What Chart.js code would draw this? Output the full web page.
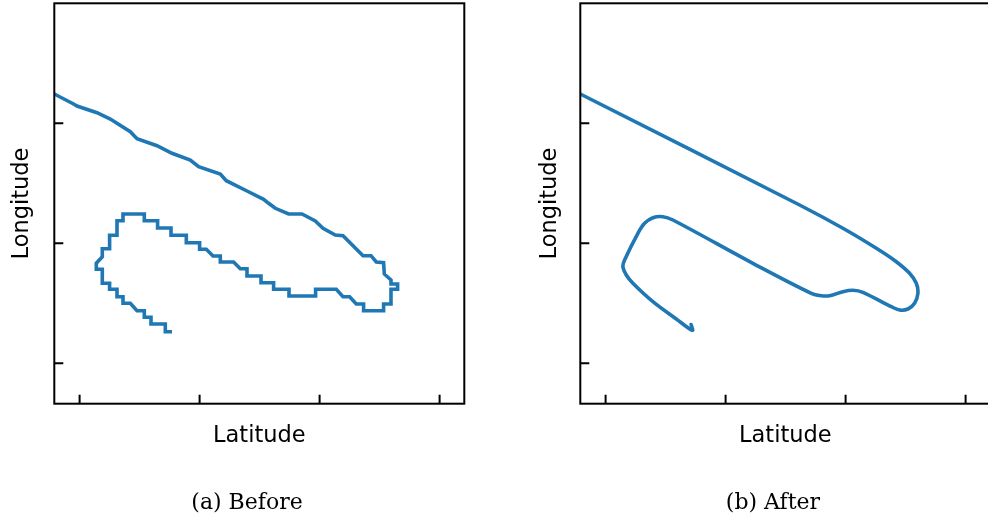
<!DOCTYPE html>
<html><head><meta charset="utf-8">
<script src="https://cdn.jsdelivr.net/npm/chart.js@4.4.1/dist/chart.umd.min.js"></script>
<style>
html,body{margin:0;padding:0;width:988px;height:517px;overflow:hidden;background:#fff;}
canvas{position:absolute;top:0;}
#c1{left:0}
#c2{left:526px}
</style></head><body>
<canvas id="c1" width="494" height="517"></canvas>
<canvas id="c2" width="494" height="517"></canvas>
<script>
// Tick positions (labels hidden in the reference)
const latTicks = [0, 120, 240, 360];
const lonTicks = [0, 120, 240];
const xTitle = 'Latitude';
const yTitle = 'Longitude';
const captions = ['(a) Before', '(b) After'];

// (a) Before: raw trajectory
const beforeLat = [-25.3, -6, -2.6, 17.4, 30.7, 50.7, 57.4, 77.4, 92.4, 110.7, 119, 140.7, 146.7, 167.4, 184, 189, 195.7, 209, 222.4, 235.7, 243.4, 255.7, 263.4, 283.4, 291.4, 296.7, 304, 304.7, 311.4, 311.4, 318, 318, 311.4, 311.4, 304, 304, 284, 284, 276.7, 270, 263.4, 256.7, 236, 236, 209.4, 209.4, 194, 194, 181.4, 181.4, 167.4, 167.4, 160.7, 154, 140.7, 140.7, 133.4, 126.7, 120, 120, 106.7, 106.7, 91.4, 91.4, 78, 78, 64.7, 64.7, 43.4, 43.4, 37.4, 37.4, 30, 30, 22.7, 22.7, 16.7, 16.7, 22.7, 22.7, 30, 30, 37.4, 37.4, 43.4, 43.4, 50.7, 57.4, 64.7, 64.7, 71.4, 71.4, 85.7, 85.7, 92.4];
const beforeLon = [269.3, 259.3, 257.3, 250.6, 244.3, 231.6, 224.6, 217.6, 210, 203.3, 196.6, 189.3, 182.6, 172.3, 164, 160, 155, 149.3, 149.3, 142.3, 135, 128.3, 127.6, 107.6, 107.6, 101.3, 100.6, 89.3, 83.3, 79.3, 79.3, 74, 74, 59.3, 59.3, 52.6, 52.6, 59.3, 59.3, 66.6, 66.6, 74, 74, 67.3, 67.3, 74, 74, 80.6, 80.6, 87.3, 87.3, 94.6, 94.6, 101.3, 101.3, 107.3, 107.3, 114, 114, 120.6, 120.6, 128, 128, 135.3, 135.3, 142.6, 142.6, 149.3, 149.3, 142.6, 142.6, 128, 128, 114.6, 114.6, 106.6, 100, 94, 94, 80, 80, 74, 74, 66.6, 66.6, 60, 60, 52.6, 52.6, 46, 46, 39.3, 39.3, 31.6, 31.6];

// (b) After: smoothed trajectory
const afterLat = [-25.3, 194, 237.3, 270.7, 290.7, 304, 310.7, 312.3, 309, 302.3, 294, 285.7, 257.3, 247.3, 237.3, 224, 215.7, 205.7, 147.3, 67.3, 57.3, 47.3, 39, 32.3, 19, 17.3, 20.7, 27.3, 47.3, 70.7, 86.7, 85.5];
const afterLon = [269.3, 158.3, 135, 115, 101.6, 90, 80, 70, 60, 54.3, 53.3, 56.6, 71, 73, 71.6, 67.6, 67.6, 70, 100, 143.3, 146.6, 145.6, 140, 130, 103.3, 96.6, 88.3, 80, 61.6, 44.3, 33, 38.8];

const X_MIN = -25.3, X_MAX = 384.7, Y_MIN = -40.4, Y_MAX = 360;

const framePlugin = {
  id: 'frame',
  afterDatasetsDraw(chart) {
    const {ctx, chartArea: a} = chart;
    const xs = chart.scales.x, ys = chart.scales.y;
    ctx.save();
    ctx.strokeStyle = '#000';
    ctx.lineWidth = 2;
    ctx.strokeRect(a.left, a.top, a.right - a.left, a.bottom - a.top);
    ctx.beginPath();
    xs.ticks.forEach(t => { const p = xs.getPixelForValue(t.value); ctx.moveTo(p, a.bottom); ctx.lineTo(p, a.bottom - 9); });
    ys.ticks.forEach(t => { const p = ys.getPixelForValue(t.value); ctx.moveTo(a.left, p); ctx.lineTo(a.left + 9, p); });
    ctx.stroke();
    ctx.restore();
  }
};

Chart.defaults.font.family = 'DejaVu Sans';
Chart.defaults.color = '#000';

function makeChart(id, lat, lon, caption, smooth, yPad) {
  return new Chart(document.getElementById(id), {
    type: 'scatter',
    data: { datasets: [{
      data: lat.map((v, i) => ({x: v, y: lon[i]})),
      showLine: true, borderColor: '#1f77b4', backgroundColor: '#1f77b4',
      borderWidth: 3.6, pointRadius: 0, pointHoverRadius: 0,
      tension: smooth ? 0.35 : 0,
      borderJoinStyle: smooth ? 'round' : 'miter',
      borderCapStyle: smooth ? 'round' : 'butt',
      clip: 0
    }]},
    options: {
      responsive: false, animation: false, devicePixelRatio: 1, events: [],
      layout: { padding: { top: 3.3, left: 0, right: 0, bottom: 0 } },
      plugins: {
        legend: { display: false }, tooltip: { enabled: false },
        title: { display: true, position: 'bottom', text: caption, color: '#000',
          font: { family: 'DejaVu Serif', size: 22, weight: 'normal', lineHeight: 1.2 },
          padding: { top: 40.2, bottom: 0.3 } }
      },
      scales: {
        x: { type: 'linear', position: 'bottom', min: X_MIN, max: X_MAX,
          ticks: { display: false }, grid: { display: false, drawTicks: false }, border: { display: false },
          title: { display: true, text: xTitle, color: '#000', font: { family: 'DejaVu Sans', size: 22.5, lineHeight: 1.2 }, padding: { top: 0, bottom: 0 } },
          afterBuildTicks: s => { s.ticks = latTicks.map(v => ({value: v})); },
          afterFit: s => { s.height = 46.4; } },
        y: { type: 'linear', position: 'left', min: Y_MIN, max: Y_MAX,
          ticks: { display: false }, grid: { display: false, drawTicks: false }, border: { display: false },
          title: { display: true, text: yTitle, color: '#000', font: { family: 'DejaVu Sans', size: 22.5, lineHeight: 1.2 }, padding: { top: yPad, bottom: 0 } },
          afterBuildTicks: s => { s.ticks = lonTicks.map(v => ({value: v})); },
          afterFit: s => { s.width = 54.3; } },
        yR: { type: 'linear', position: 'right', display: true,
          ticks: { display: false }, grid: { display: false, drawTicks: false }, border: { display: false },
          title: { display: false },
          afterFit: s => { s.width = 29.7; } }
      }
    },
    plugins: [framePlugin]
  });
}

makeChart('c1', beforeLat, beforeLon, captions[0], false, 9);
makeChart('c2', afterLat, afterLon, captions[1], true, 11);
</script></body></html>
